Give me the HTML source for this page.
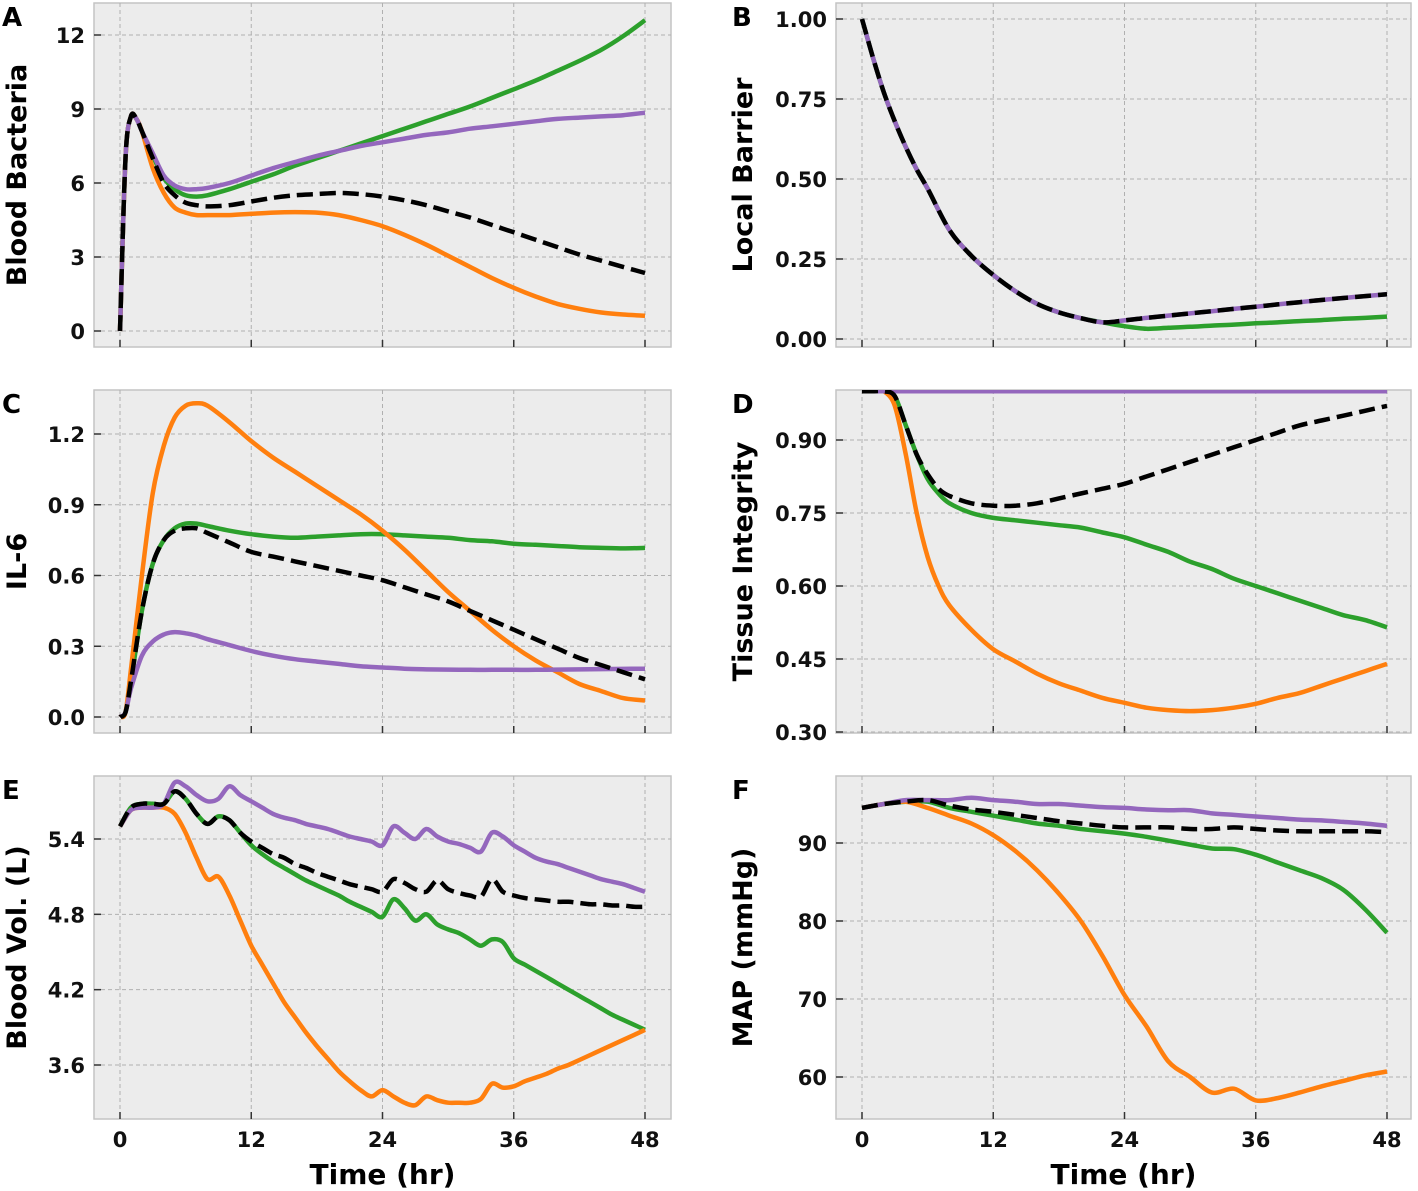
<!DOCTYPE html>
<html><head><meta charset="utf-8">
<style>
html,body{margin:0;padding:0;background:#fff;}
svg{display:block;font-family:"DejaVu Sans","Liberation Sans",sans-serif;font-weight:bold;}
</style></head>
<body>
<svg id="fig" width="1418" height="1191" viewBox="0 0 1418 1191" xmlns="http://www.w3.org/2000/svg"></svg>
<script>
// ---- data ----
const tA = [0,0.5,1,1.5,2,3,4,5,6,7,8,10,12,14,16,18,20,22,24,26,28,30,32,34,36,38,40,42,44,46,48];
const bactBlack  = [0,7,8.7,8.6,8.1,7.0,6.0,5.5,5.2,5.1,5.05,5.1,5.25,5.4,5.5,5.55,5.6,5.55,5.45,5.3,5.1,4.85,4.6,4.3,4.0,3.7,3.4,3.1,2.85,2.6,2.35];
const bactOrange = [0,7,8.7,8.6,8.1,6.6,5.6,5.0,4.8,4.7,4.7,4.7,4.75,4.8,4.82,4.8,4.7,4.5,4.25,3.9,3.5,3.05,2.6,2.15,1.75,1.4,1.1,0.9,0.75,0.67,0.62];
const bactGreen  = [0,7,8.7,8.6,8.1,7.1,6.2,5.75,5.5,5.45,5.5,5.75,6.05,6.35,6.7,7.0,7.3,7.6,7.9,8.2,8.5,8.8,9.1,9.45,9.8,10.15,10.55,10.95,11.4,11.95,12.6];
const bactPurple = [0,7,8.7,8.6,8.1,7.2,6.3,5.9,5.75,5.75,5.8,6.0,6.3,6.6,6.85,7.1,7.3,7.5,7.65,7.8,7.95,8.05,8.2,8.3,8.4,8.5,8.6,8.65,8.7,8.75,8.85];

const tB = [0,1,2,3,4,5,6,8,10,12,14,16,18,20,22,24,26,28,30,32,34,36,38,40,42,44,46,48];
const barBlack = [1.0,0.88,0.77,0.68,0.6,0.53,0.47,0.34,0.26,0.2,0.15,0.11,0.083,0.065,0.052,0.058,0.066,0.073,0.08,0.087,0.094,0.101,0.108,0.115,0.122,0.128,0.134,0.14];
const barGreen = [1.0,0.88,0.77,0.68,0.6,0.53,0.47,0.34,0.26,0.2,0.15,0.11,0.083,0.065,0.052,0.04,0.032,0.035,0.038,0.042,0.045,0.049,0.052,0.056,0.059,0.063,0.066,0.07];

const tC = [0,0.5,1,2,3,4,5,6,7,8,10,12,14,16,18,20,22,24,26,28,30,32,34,36,38,40,42,44,46,48];
const il6Orange = [0,0.02,0.2,0.6,0.95,1.15,1.27,1.32,1.33,1.32,1.25,1.17,1.1,1.04,0.98,0.92,0.86,0.79,0.71,0.62,0.53,0.45,0.37,0.3,0.24,0.19,0.14,0.11,0.08,0.07];
const il6Green  = [0,0.02,0.15,0.45,0.65,0.75,0.8,0.82,0.82,0.81,0.79,0.775,0.765,0.76,0.765,0.77,0.775,0.775,0.77,0.765,0.76,0.75,0.745,0.735,0.73,0.725,0.72,0.717,0.715,0.717];
const il6Black  = [0,0.02,0.15,0.45,0.65,0.75,0.79,0.8,0.8,0.78,0.74,0.7,0.68,0.66,0.64,0.62,0.6,0.58,0.55,0.52,0.49,0.45,0.41,0.37,0.33,0.29,0.25,0.22,0.19,0.16];
const il6Purple = [0,0.02,0.12,0.26,0.32,0.35,0.36,0.355,0.345,0.33,0.305,0.28,0.26,0.245,0.235,0.225,0.215,0.21,0.205,0.202,0.201,0.2,0.2,0.2,0.2,0.201,0.202,0.203,0.204,0.205];

const tD = [0,1,2,3,4,5,6,7,8,10,12,14,16,18,20,22,24,26,28,30,32,34,36,38,40,42,44,46,48];
const tisPurple = [1,1,1,1,1,1,1,1,1,1,1,1,1,1,1,1,1,1,1,1,1,1,1,1,1,1,1,1,1];
const tisBlack  = [1,1,1,0.99,0.93,0.87,0.83,0.8,0.785,0.77,0.765,0.765,0.77,0.78,0.79,0.8,0.81,0.825,0.84,0.855,0.87,0.885,0.9,0.915,0.93,0.94,0.95,0.96,0.97];
const tisGreen  = [1,1,1,0.99,0.93,0.87,0.82,0.79,0.77,0.75,0.74,0.735,0.73,0.725,0.72,0.71,0.7,0.685,0.67,0.65,0.635,0.615,0.6,0.585,0.57,0.555,0.54,0.53,0.515];
const tisOrange = [1,1,1,0.97,0.87,0.75,0.66,0.6,0.56,0.51,0.47,0.445,0.42,0.4,0.385,0.37,0.36,0.35,0.345,0.343,0.345,0.35,0.358,0.37,0.38,0.395,0.41,0.425,0.44];

const tE = [0,1,2,3,4,5,6,7,8,9,10,11,12,13,14,15,16,17,18,19,20,21,22,23,24,25,26,27,28,29,30,31,32,33,34,35,36,37,38,39,40,41,42,43,44,45,46,47,48];
const volPurple = [5.5,5.63,5.65,5.65,5.68,5.85,5.82,5.75,5.7,5.72,5.82,5.75,5.7,5.65,5.6,5.57,5.55,5.52,5.5,5.48,5.45,5.42,5.4,5.38,5.35,5.5,5.45,5.4,5.48,5.42,5.38,5.36,5.33,5.3,5.45,5.42,5.35,5.3,5.25,5.22,5.2,5.17,5.14,5.11,5.08,5.06,5.04,5.01,4.98];
const volBlack  = [5.5,5.65,5.68,5.68,5.68,5.78,5.72,5.6,5.52,5.58,5.55,5.45,5.38,5.33,5.28,5.25,5.2,5.17,5.13,5.1,5.07,5.04,5.02,5.0,4.98,5.08,5.05,5.0,4.98,5.07,5.0,4.97,4.95,4.94,5.08,4.98,4.95,4.93,4.92,4.91,4.9,4.9,4.89,4.88,4.88,4.87,4.87,4.86,4.86];
const volGreen  = [5.5,5.65,5.68,5.68,5.68,5.78,5.72,5.6,5.52,5.58,5.55,5.45,5.35,5.28,5.22,5.17,5.12,5.07,5.03,4.99,4.95,4.9,4.86,4.82,4.78,4.92,4.85,4.75,4.8,4.72,4.68,4.65,4.6,4.55,4.6,4.58,4.45,4.4,4.35,4.3,4.25,4.2,4.15,4.1,4.05,4.0,3.96,3.92,3.88];
const volOrange = [5.5,5.63,5.65,5.65,5.65,5.6,5.45,5.25,5.08,5.1,4.95,4.75,4.55,4.4,4.25,4.1,3.98,3.86,3.75,3.65,3.55,3.47,3.4,3.35,3.4,3.35,3.3,3.28,3.35,3.32,3.3,3.3,3.3,3.33,3.45,3.42,3.43,3.47,3.5,3.53,3.57,3.6,3.64,3.68,3.72,3.76,3.8,3.84,3.88];

const tF = [0,2,4,6,8,10,12,14,16,18,20,22,24,26,28,30,32,34,36,38,40,42,44,46,48];
const mapPurple = [94.5,95,95.5,95.5,95.5,95.8,95.5,95.3,95,95,94.8,94.6,94.5,94.3,94.2,94.2,93.8,93.6,93.4,93.2,93,92.9,92.7,92.5,92.2];
const mapBlack  = [94.5,95,95.3,95.5,94.8,94.3,94,93.6,93.2,92.8,92.5,92.2,92,92,92,91.8,91.8,92,91.8,91.6,91.5,91.5,91.5,91.5,91.4];
const mapGreen  = [94.5,95,95.3,95.3,94.5,94,93.5,93,92.5,92.2,91.8,91.5,91.2,90.8,90.3,89.8,89.3,89.2,88.5,87.5,86.5,85.5,84,81.5,78.5];
const mapOrange = [94.5,95,95.3,94.5,93.5,92.5,91,89,86.5,83.5,80,75.5,70.5,66.5,62,60,58,58.5,57,57.3,58,58.8,59.5,60.2,60.7];

const xTicks = [0,12,24,36,48];
const ticksA = ["0","3","6","9","12"];
const ticksB = ["0.00","0.25","0.50","0.75","1.00"];
const ticksC = ["0.0","0.3","0.6","0.9","1.2"];
const ticksD = ["0.30","0.45","0.60","0.75","0.90"];
const ticksE = ["3.6","4.2","4.8","5.4"];
const ticksF = ["60","70","80","90"];

// ---- drawing ----
const NS = "http://www.w3.org/2000/svg";
const svg = document.getElementById("fig");
function mk(tag, attrs, parent){
  const e = document.createElementNS(NS, tag);
  for (const k in attrs) e.setAttribute(k, attrs[k]);
  (parent||svg).appendChild(e);
  return e;
}
const C = {orange:"#ff7f0e", green:"#2ca02c", purple:"#9467bd", black:"#000"};

function smoothPath(pts){
  let d = "M"+pts[0][0].toFixed(1)+","+pts[0][1].toFixed(1);
  for (let i=0;i<pts.length-1;i++){
    const p0 = pts[Math.max(0,i-1)], p1 = pts[i], p2 = pts[i+1], p3 = pts[Math.min(pts.length-1,i+2)];
    const k = 0.16;
    const c1x = p1[0]+(p2[0]-p0[0])*k, c1y = p1[1]+(p2[1]-p0[1])*k;
    const c2x = p2[0]-(p3[0]-p1[0])*k, c2y = p2[1]-(p3[1]-p1[1])*k;
    d += " C"+c1x.toFixed(1)+","+c1y.toFixed(1)+" "+c2x.toFixed(1)+","+c2y.toFixed(1)+" "+p2[0].toFixed(1)+","+p2[1].toFixed(1);
  }
  return d;
}

function panel(cfg){
  const g = mk("g", {});
  
  
  const [x0,y0,x1,y1] = cfg.rect;
  const [tx0,tx48] = cfg.xpx;
  const xs = t => tx0 + t*(tx48-tx0)/48;
  const [va,pa,vb,pb] = cfg.ymap;
  const ys = v => pa + (v-va)*(pb-pa)/(vb-va);
  const bg = mk("rect", {x:x0,y:y0,width:x1-x0,height:y1-y0,fill:"#ececec",stroke:"#c4c4c4","stroke-width":1.5}, g);
  
  
  const clipId = "clip-"+cfg.name;
  const cp = mk("clipPath", {id:clipId}, g);
  mk("rect", {x:x0,y:y0,width:x1-x0,height:y1-y0}, cp);
  xTicks.forEach(t=>{
    const X = xs(t);
    const gl = mk("line", {x1:X,x2:X,y1:y0,y2:y1,stroke:"#b0b0b0","stroke-width":1,"stroke-dasharray":"4,3"}, g);
    
    
    const tk = mk("line", {x1:X,x2:X,y1:y1,y2:y1-7,stroke:"#333","stroke-width":1.5}, g);
    
    
    if (cfg.xlabels){
      const tl = mk("text", {x:X,y:y1+28,"text-anchor":"middle","font-size":21,fill:"#111"}, g);
      tl.textContent = String(t);
      
      
    }
  });
  cfg.yticks.forEach(s=>{
    const Y = ys(parseFloat(s));
    const gl = mk("line", {x1:x0,x2:x1,y1:Y,y2:Y,stroke:"#b0b0b0","stroke-width":1,"stroke-dasharray":"4,3"}, g);
    
    
    const tk = mk("line", {x1:x0,x2:x0+7,y1:Y,y2:Y,stroke:"#333","stroke-width":1.5}, g);
    
    
    const tl = mk("text", {x:x0-9,y:Y+8,"text-anchor":"end","font-size":21,fill:"#111"}, g);
    tl.textContent = s;
    
    
  });
  const lg = mk("g", {"clip-path":"url(#"+clipId+")"}, g);
  cfg.series.forEach(s=>{
    const pts = s.v.map((v,i)=>[xs(s.t[i]), ys(v)]);
    const p = mk("path", {d:smoothPath(pts),fill:"none",stroke:C[s.c],"stroke-width":4.5,"stroke-linejoin":"round","stroke-linecap":"butt"}, lg);
    if (s.c==="black") p.setAttribute("stroke-dasharray","16,7");
    
    
  });
  const cy = (y0+y1)/2;
  const yl = mk("text", {x:cfg.ylx,y:cy,"text-anchor":"middle","font-size":27,fill:"#000",transform:"rotate(-90 "+cfg.ylx+" "+cy+")"}, g);
  yl.textContent = cfg.ylabel;
  
  
  const lt = mk("text", {x:cfg.letter[1],y:cfg.letter[2],"font-size":26,fill:"#000"}, g);
  lt.textContent = cfg.letter[0];
  
  
  if (cfg.xlabels){
    const xt = mk("text", {x:(x0+x1)/2,y:y1+65,"text-anchor":"middle","font-size":28,fill:"#000"}, g);
    xt.textContent = "Time (hr)";
    
    
  }
}
const L = [120,645], R = [862,1387];
panel({name:"panel-a-blood-bacteria",rect:[94,3,671,347],xpx:L,ymap:[0,331,12,35],yticks:ticksA,ylabel:"Blood Bacteria",ylx:26,letter:["A",2,26],
  series:[{t:tA,v:bactGreen,c:"green",name:"line-green"},{t:tA,v:bactOrange,c:"orange",name:"line-orange"},{t:tA,v:bactPurple,c:"purple",name:"line-purple"},{t:tA,v:bactBlack,c:"black",name:"line-black-dashed"}]});
panel({name:"panel-b-local-barrier",rect:[836,3,1411,347],xpx:R,ymap:[0,339,1,19],yticks:ticksB,ylabel:"Local Barrier",ylx:752,letter:["B",732,26],
  series:[{t:tB,v:barGreen,c:"green",name:"line-green"},{t:tB,v:barBlack,c:"purple",name:"line-purple"},{t:tB,v:barBlack,c:"black",name:"line-black-dashed"}]});
panel({name:"panel-c-il6",rect:[94,390,671,733],xpx:L,ymap:[0,717,1.2,434],yticks:ticksC,ylabel:"IL-6",ylx:26,letter:["C",2,413],
  series:[{t:tC,v:il6Green,c:"green",name:"line-green"},{t:tC,v:il6Orange,c:"orange",name:"line-orange"},{t:tC,v:il6Purple,c:"purple",name:"line-purple"},{t:tC,v:il6Black,c:"black",name:"line-black-dashed"}]});
panel({name:"panel-d-tissue-integrity",rect:[836,390,1411,733],xpx:R,ymap:[0.3,732,0.9,440],yticks:ticksD,ylabel:"Tissue Integrity",ylx:752,letter:["D",732,413],
  series:[{t:tD,v:tisGreen,c:"green",name:"line-green"},{t:tD,v:tisOrange,c:"orange",name:"line-orange"},{t:tD,v:tisPurple,c:"purple",name:"line-purple"},{t:tD,v:tisBlack,c:"black",name:"line-black-dashed"}]});
panel({name:"panel-e-blood-volume",rect:[94,776,671,1119],xpx:L,ymap:[3.6,1065,5.4,839],yticks:ticksE,ylabel:"Blood Vol. (L)",ylx:26,letter:["E",2,799],xlabels:true,
  series:[{t:tE,v:volGreen,c:"green",name:"line-green"},{t:tE,v:volOrange,c:"orange",name:"line-orange"},{t:tE,v:volPurple,c:"purple",name:"line-purple"},{t:tE,v:volBlack,c:"black",name:"line-black-dashed"}]});
panel({name:"panel-f-map",rect:[836,776,1411,1119],xpx:R,ymap:[60,1077,90,843],yticks:ticksF,ylabel:"MAP (mmHg)",ylx:752,letter:["F",732,799],xlabels:true,
  series:[{t:tF,v:mapGreen,c:"green",name:"line-green"},{t:tF,v:mapOrange,c:"orange",name:"line-orange"},{t:tF,v:mapPurple,c:"purple",name:"line-purple"},{t:tF,v:mapBlack,c:"black",name:"line-black-dashed"}]});
</script>
</body></html>
